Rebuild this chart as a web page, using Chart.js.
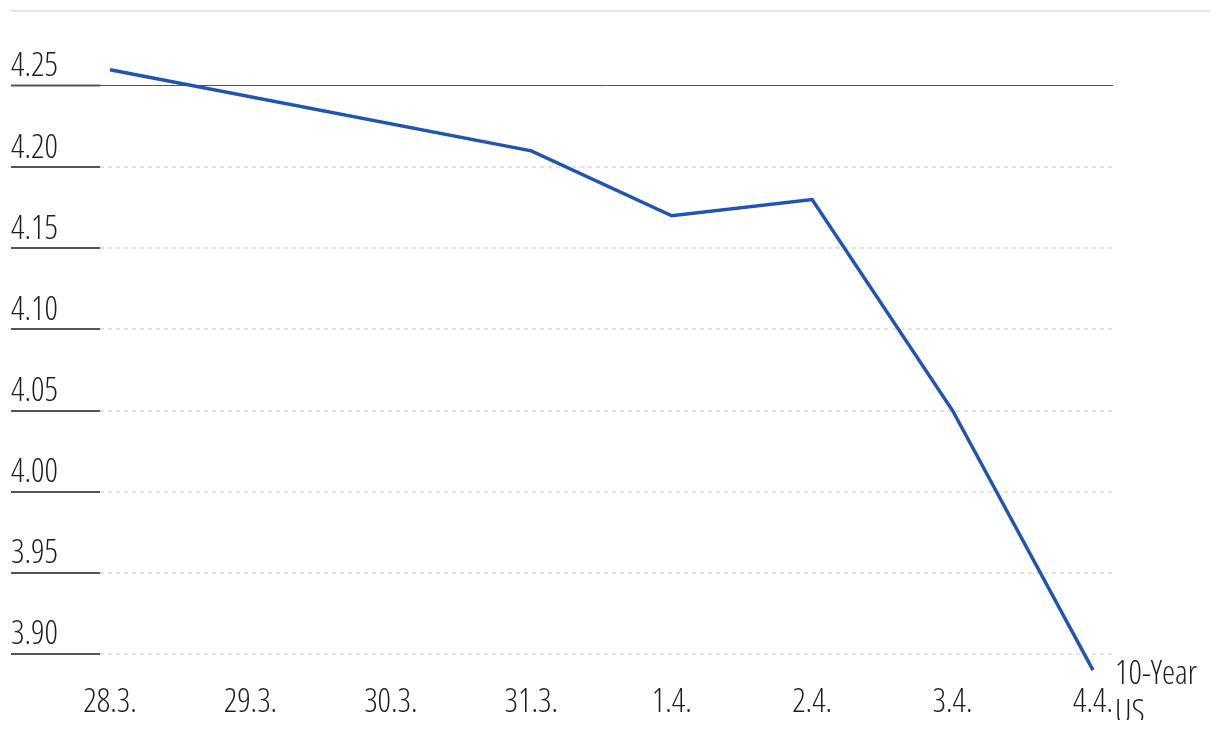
<!DOCTYPE html>
<html>
<head>
<meta charset="utf-8">
<script src="https://cdn.jsdelivr.net/npm/chart.js@4.4.1/dist/chart.umd.min.js"></script>
<style>
  html, body { margin: 0; padding: 0; background: #fff; }
  #wrap { position: relative; width: 1220px; height: 732px; }
  #topRule { position: absolute; left: 10px; top: 10px; width: 1200px; height: 2px; background: #e6e6e6; }
  canvas { position: absolute; left: 0; top: 0; }
</style>
</head>
<body>
<div id="wrap">
  <div id="topRule"></div>
  <canvas id="chart" width="1220" height="732"></canvas>
</div>
<script>
// dates on the x axis
const dateLabels = ['28.3.', '29.3.', '30.3.', '31.3.', '1.4.', '2.4.', '3.4.', '4.4.'];
// 10-year US treasury yield, % (no quotes on the weekend)
const yieldValues = [4.26, null, null, 4.21, 4.17, 4.18, 4.05, 3.89];
const seriesName = ['10-Year', 'US'];
// y axis ticks
const yTickValues = [3.90, 3.95, 4.00, 4.05, 4.10, 4.15, 4.20, 4.25];

// condensed light face, stretch goes in with the weight so canvas picks it up
const FONT_FAMILY = "'Open Sans', sans-serif";
const FONT_WEIGHT = 'condensed 350';
const FONT_SIZE = 33;
const TEXT = '#1e1e1e';

// label at the end of the line
const endLabel = {
  id: 'endLabel',
  afterDatasetsDraw(chart) {
    const meta = chart.getDatasetMeta(0);
    const pt = meta.data[meta.data.length - 1];
    const ctx = chart.ctx;
    ctx.save();
    ctx.beginPath();
    ctx.rect(0, 0, chart.width, 720);
    ctx.clip();
    ctx.font = FONT_WEIGHT + ' ' + FONT_SIZE + 'px ' + FONT_FAMILY;
    ctx.fillStyle = TEXT;
    ctx.textAlign = 'left';
    ctx.textBaseline = 'middle';
    seriesName.forEach((t, i) => ctx.fillText(t, pt.x + 22, pt.y + 4 + i * 39));
    ctx.restore();
  }
};

new Chart(document.getElementById('chart'), {
  type: 'line',
  data: {
    datasets: [{
      label: seriesName.join(' '),
      data: yieldValues.map((v, i) => ({ x: i, y: v })),
      borderColor: '#1f55b0',
      borderWidth: 3.5,
      pointRadius: 0,
      tension: 0,
      spanGaps: true,
      clip: false
    }]
  },
  options: {
    responsive: false,
    animation: false,
    layout: { padding: { left: 11, right: 107, top: 53.5, bottom: 0 } },
    plugins: { legend: { display: false }, tooltip: { enabled: false } },
    scales: {
      x: {
        type: 'linear',
        min: -0.0712,
        max: 7.1424,
        afterBuildTicks: (axis) => { axis.ticks = dateLabels.map((_, i) => ({ value: i })); },
        afterFit: (axis) => { axis.height = 53.7; },
        grid: { display: false },
        border: { display: false },
        ticks: {
          autoSkip: false,
          maxRotation: 0,
          padding: -4,
          color: TEXT,
          font: { family: FONT_FAMILY, weight: FONT_WEIGHT, size: FONT_SIZE },
          callback: (v) => dateLabels[v]
        }
      },
      y: {
        min: 3.885,
        max: 4.27,
        afterBuildTicks: (axis) => { axis.ticks = yTickValues.map(v => ({ value: v })); },
        afterFit: (axis) => { axis.width = 89; },
        grid: {
          color: (c) => (c.tick && c.tick.value === 4.25) ? '#555' : '#e2e2e2',
          lineWidth: (c) => (c.tick && c.tick.value === 4.25) ? 1 : 2,
          tickColor: '#555',
          tickWidth: 2,
          tickLength: 89,
          tickBorderDash: []
        },
        border: {
          display: false,
          dash: (c) => (c.tick && c.tick.value === 4.25) ? [] : [4, 4]
        },
        ticks: {
          crossAlign: 'far',
          labelOffset: -19,
          padding: 0,
          color: TEXT,
          font: { family: FONT_FAMILY, weight: FONT_WEIGHT, size: FONT_SIZE },
          callback: (v) => v.toFixed(2)
        }
      }
    }
  },
  plugins: [endLabel]
});
</script>
</body>
</html>
